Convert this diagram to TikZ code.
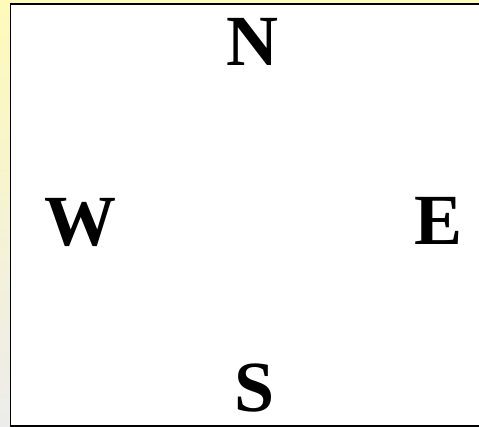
\documentclass[tikz,border=0pt]{standalone}
\usepackage{fontspec}
\setmainfont{Liberation Serif}
\definecolor{bgyellow}{RGB}{255,250,185}
\definecolor{bggray}{RGB}{236,236,236}
\begin{document}
\begin{tikzpicture}[x=1pt,y=-1pt,
  dirlabel/.style={anchor=base,inner sep=0pt,font=\fontsize{72}{72}\selectfont\bfseries}]
\useasboundingbox (0,0) rectangle (479,427);
\shade[top color=bgyellow,bottom color=bggray] (0,0) rectangle (479,427);
\draw[fill=white,line width=1.6pt] (10.5,4.2) rectangle (485,425.8);
\node[dirlabel] (n) at (252,66) {N};
\node[dirlabel] (w) at (80,246) {W};
\node[dirlabel] (e) at (439,245) {E};
\node[dirlabel] (s) at (255,411) {S};
\end{tikzpicture}
\end{document}
